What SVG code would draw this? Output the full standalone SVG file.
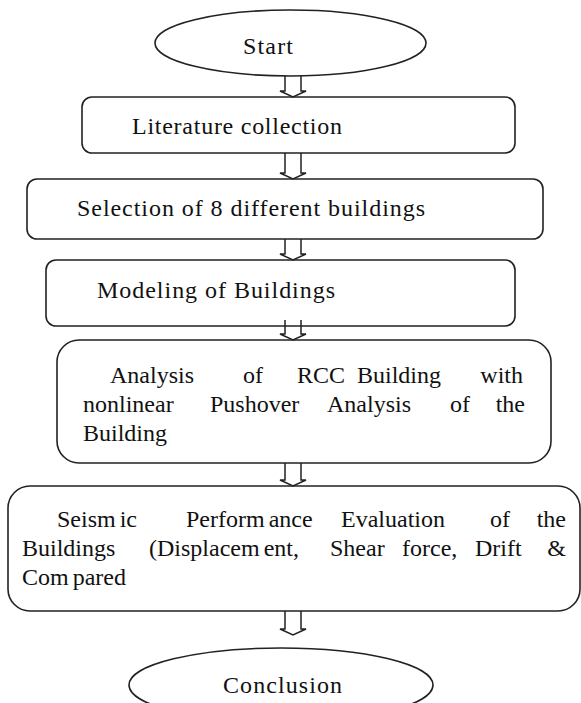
<svg xmlns="http://www.w3.org/2000/svg" width="581" height="703" viewBox="0 0 581 703">
<style>
.shape{fill:#fff;stroke:#222;stroke-width:1.6}
.arrow{fill:none;stroke:#222;stroke-width:1.5;stroke-linejoin:miter}
</style>
<rect width="581" height="703" fill="#fff"/>
<g font-family="Liberation Serif, Tinos, Times New Roman, Times, Nimbus Roman, FreeSerif, DejaVu Serif, serif" font-size="24" fill="#111">
<g id="start">
<ellipse class="shape" cx="290.5" cy="43" rx="135.5" ry="33"/>
<text x="243" y="54" textLength="50" lengthAdjust="spacing">Start</text>
</g>
<g id="literature">
<rect class="shape" x="82" y="97" width="433" height="56" rx="10"/>
<text x="132" y="134" textLength="210" lengthAdjust="spacing">Literature collection</text>
</g>
<g id="selection">
<rect class="shape" x="27" y="179" width="516" height="60" rx="10"/>
<text x="77" y="216" textLength="348" lengthAdjust="spacing">Selection of 8 different buildings</text>
</g>
<g id="modeling">
<rect class="shape" x="46" y="260" width="469" height="66" rx="10"/>
<text x="97" y="298" textLength="238" lengthAdjust="spacing">Modeling of Buildings</text>
</g>
<g id="analysis">
<rect class="shape" x="57" y="340" width="494" height="123" rx="22"/>
<text y="383"><tspan x="110">Analysis</tspan><tspan x="243">of</tspan><tspan x="297">RCC</tspan><tspan x="357">Building</tspan><tspan x="523" text-anchor="end">with</tspan></text>
<text y="412"><tspan x="83">nonlinear</tspan><tspan x="210">Pushover</tspan><tspan x="327">Analysis</tspan><tspan x="450">of</tspan><tspan x="525" text-anchor="end">the</tspan></text>
<text x="83" y="441">Building</text>
</g>
<g id="seismic">
<rect class="shape" x="8" y="486" width="572" height="125" rx="22"/>
<text y="527"><tspan x="57">Seism</tspan><tspan dx="4">ic</tspan><tspan x="186">Perform</tspan><tspan dx="4">ance</tspan><tspan x="341">Evaluation</tspan><tspan x="490">of</tspan><tspan x="566" text-anchor="end">the</tspan></text>
<text y="556"><tspan x="22">Buildings</tspan><tspan x="149">(Displacem</tspan><tspan dx="4">ent,</tspan><tspan x="330">Shear</tspan><tspan x="402">force,</tspan><tspan x="475">Drift</tspan><tspan x="566" text-anchor="end">&amp;</tspan></text>
<text y="585"><tspan x="22">Com</tspan><tspan dx="4">pared</tspan></text>
</g>
<g id="conclusion">
<ellipse class="shape" cx="281" cy="685" rx="152" ry="37"/>
<text x="223" y="693" textLength="119" lengthAdjust="spacing">Conclusion</text>
</g>
</g>
<g id="connectors">
<path class="arrow" d="M285,76 V91 H280 L293,97 L306,91 H301 V76"/>
<path class="arrow" d="M285,153 V173 H280 L293,179 L306,173 H301 V153"/>
<path class="arrow" d="M285,239 V254 H280 L293,260 L306,254 H301 V239"/>
<path class="arrow" d="M285,320 V334 H280 L293,340 L306,334 H301 V320"/>
<path class="arrow" d="M285,463 V480 H280 L293,486 L306,480 H301 V463"/>
<path class="arrow" d="M285,611 V629 H280 L293,635 L306,629 H301 V611"/>
</g>
</svg>
